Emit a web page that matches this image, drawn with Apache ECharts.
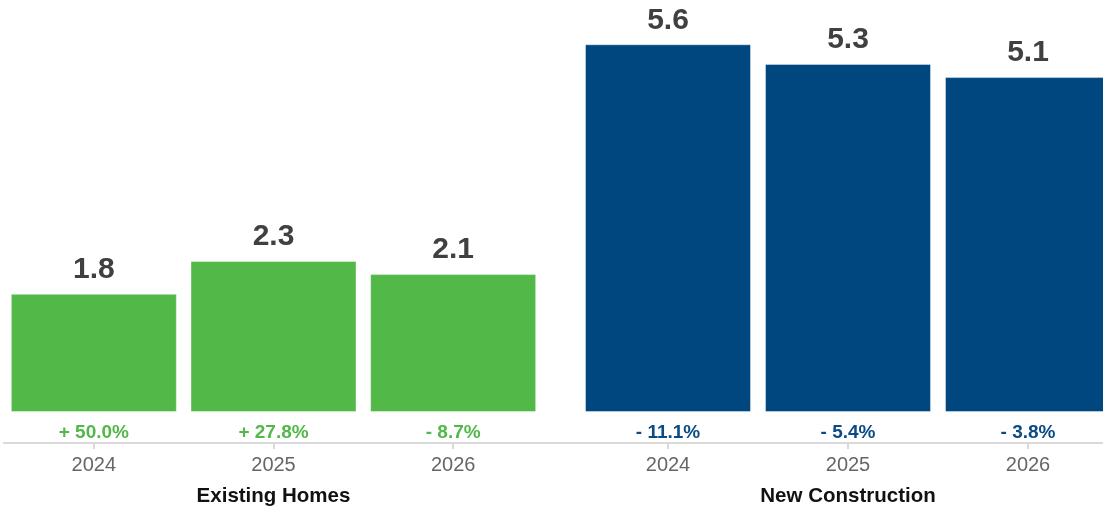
<!DOCTYPE html>
<html>
<head>
<meta charset="utf-8">
<script src="https://cdn.jsdelivr.net/npm/echarts@6/dist/echarts.min.js"></script>
<style>
  html, body { margin: 0; padding: 0; background: #ffffff; }
  #chart { width: 1103px; height: 508px; }
</style>
</head>
<body>
<div id="chart"></div>
<script>
// Home sales outlook: existing homes vs new construction, 2024-2026
const groups = ['Existing Homes', 'New Construction'];
const years = ['2024', '2025', '2026'];
const existingValues = [1.8, 2.3, 2.1];
const newValues = [5.6, 5.3, 5.1];
const existingChange = ['+ 50.0%', '+ 27.8%', '- 8.7%'];
const newChange = ['- 11.1%', '- 5.4%', '- 3.8%'];

const FONT = '"Liberation Sans", Arial, Helvetica, sans-serif';
const GREEN = '#52b848';
const BLUE = '#00477f';
const AXIS_GRAY = '#d9d9d9';

const plotTop = 18;
const plotHeight = 394;
const axisOffset = 31;

function changeAxis(gridIndex, labels, color) {
  return {
    type: 'category', gridIndex: gridIndex, data: years, position: 'bottom', offset: 0,
    axisLine: { show: false, onZero: false }, axisTick: { show: false },
    axisLabel: {
      interval: 0, margin: 11, color: color, fontFamily: FONT, fontSize: 19, fontWeight: 'bold',
      formatter: function (v, i) { return labels[i]; }
    }
  };
}

function yearAxis(gridIndex, name) {
  return {
    type: 'category', gridIndex: gridIndex, data: years, position: 'bottom', offset: axisOffset,
    axisLine: { show: true, onZero: false, lineStyle: { color: AXIS_GRAY, width: 2 } },
    axisTick: { show: true, alignWithLabel: true, length: 6, lineStyle: { color: AXIS_GRAY, width: 2 } },
    axisLabel: { interval: 0, margin: 12, color: '#666666', fontFamily: FONT, fontSize: 20 },
    name: name, nameLocation: 'middle', nameGap: 43,
    nameTextStyle: { color: '#111111', fontFamily: FONT, fontSize: 20.5, fontWeight: 'bold' }
  };
}

function valueAxis(gridIndex) {
  return { type: 'value', gridIndex: gridIndex, min: 0, max: 6, show: false };
}

function barSeries(axisIndex, values, color) {
  return {
    type: 'bar', xAxisIndex: axisIndex, yAxisIndex: axisIndex === 1 ? 0 : 1,
    data: values, barWidth: 166,
    itemStyle: { color: color, borderColor: 'rgba(255,255,255,0.4)', borderWidth: 1 },
    label: {
      show: true, position: 'top', distance: 9,
      color: '#404040', fontFamily: FONT, fontSize: 30, fontWeight: 'bold',
      formatter: function (p) { return p.value.toFixed(1); }
    }
  };
}

const gridBase = { top: plotTop, height: plotHeight, outerBoundsMode: 'none', containLabel: false };

const chart = echarts.init(document.getElementById('chart'), null, { renderer: 'canvas' });
chart.setOption({
  animation: false,
  backgroundColor: '#ffffff',
  grid: [
    Object.assign({ left: 4, width: 539 }, gridBase),
    Object.assign({ left: 578, width: 540 }, gridBase),
    Object.assign({ left: 4, right: 0 }, gridBase)
  ],
  xAxis: [
    changeAxis(0, existingChange, GREEN),
    yearAxis(0, groups[0]),
    changeAxis(1, newChange, '#0b4a85'),
    yearAxis(1, groups[1]),
    {
      type: 'category', gridIndex: 2, data: [''], position: 'bottom', offset: axisOffset,
      axisLine: { show: true, onZero: false, lineStyle: { color: AXIS_GRAY, width: 2 } },
      axisTick: { show: false }, axisLabel: { show: false }
    }
  ],
  yAxis: [valueAxis(0), valueAxis(1), valueAxis(2)],
  series: [
    barSeries(1, existingValues, GREEN),
    barSeries(3, newValues, BLUE)
  ]
});
</script>
</body>
</html>
